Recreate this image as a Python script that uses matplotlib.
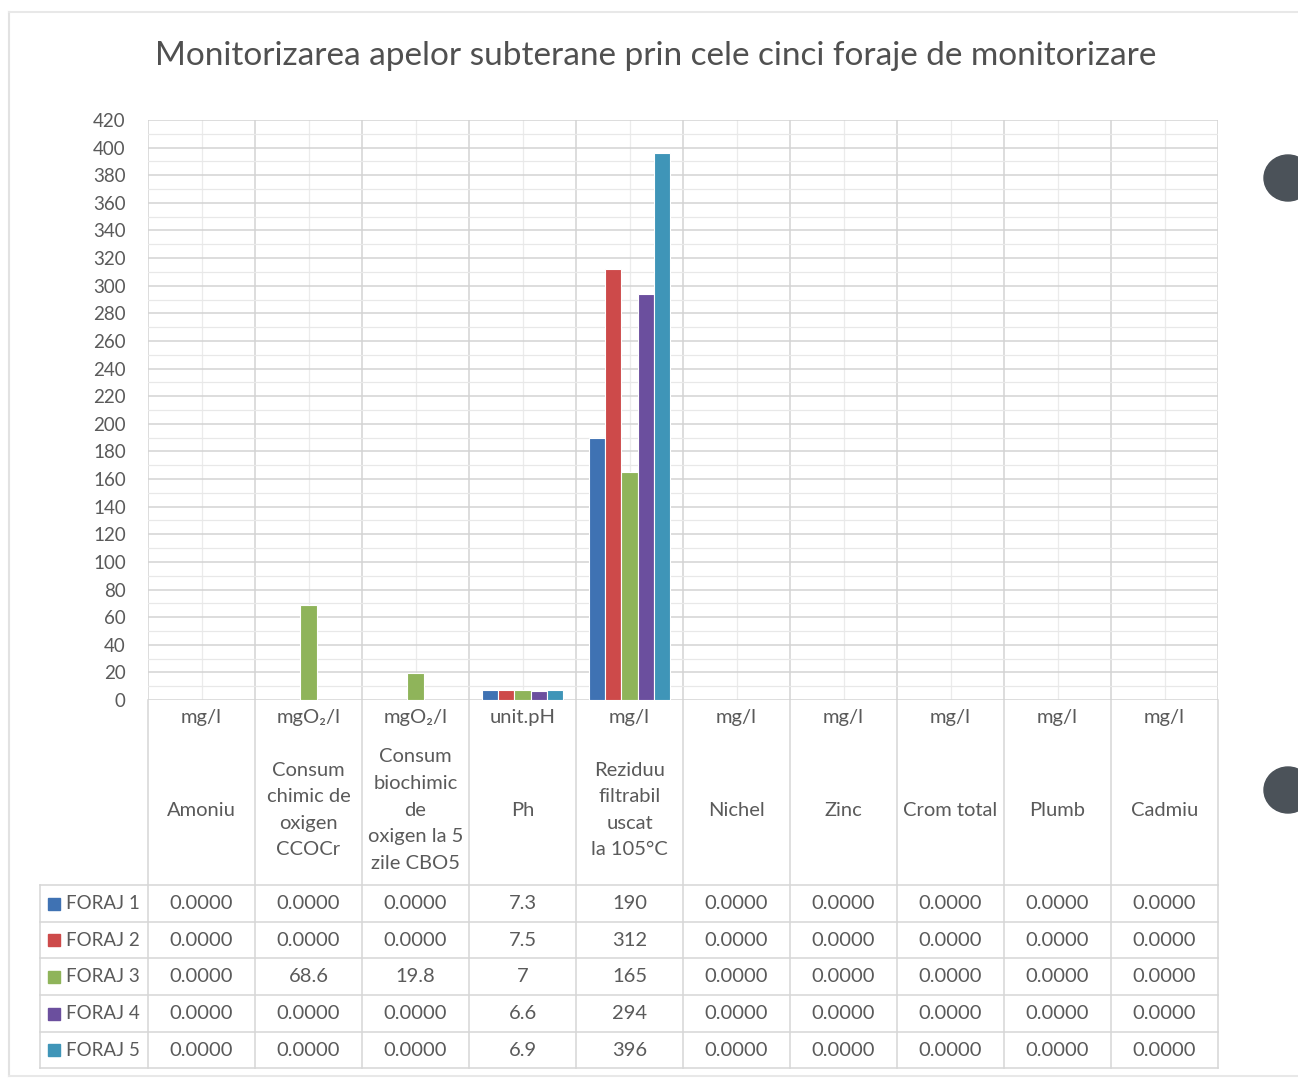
import numpy as np
import matplotlib
matplotlib.use("Agg")
from matplotlib import pyplot as plt
from matplotlib import transforms
from matplotlib.patches import Ellipse, Rectangle

plt.rcParams['font.family'] = ['Lato', 'DejaVu Sans']

title = "Monitorizarea apelor subterane prin cele cinci foraje de monitorizare"
units = ["mg/l", "mgO₂/l", "mgO₂/l", "unit.pH", "mg/l", "mg/l", "mg/l", "mg/l", "mg/l", "mg/l"]
params = ["Amoniu", "Consum\nchimic de\noxigen\nCCOCr", "Consum\nbiochimic\nde\noxigen la 5\nzile CBO5",
          "Ph", "Reziduu\nfiltrabil\nuscat\nla 105°C", "Nichel", "Zinc", "Crom total", "Plumb", "Cadmiu"]
series = ["FORAJ 1", "FORAJ 2", "FORAJ 3", "FORAJ 4", "FORAJ 5"]
foraj1 = [0, 0, 0, 7.3, 190, 0, 0, 0, 0, 0]
foraj2 = [0, 0, 0, 7.5, 312, 0, 0, 0, 0, 0]
foraj3 = [0, 68.6, 19.8, 7, 165, 0, 0, 0, 0, 0]
foraj4 = [0, 0, 0, 6.6, 294, 0, 0, 0, 0, 0]
foraj5 = [0, 0, 0, 6.9, 396, 0, 0, 0, 0, 0]
colors = ["#3f72b3", "#cd4a4a", "#8fb45a", "#6b4f9e", "#3f95b8"]

W, H = 1298, 1083
fig = plt.figure(figsize=(W / 100, H / 100), dpi=100)
fig.patch.set_facecolor("white")

def fy(y):
    return 1 - y / H

def fx(x):
    return x / W

txt = "#5a5a5a"
grid = "#d3d3d3"
fs = 14.5

ax = fig.add_axes([fx(148), fy(700), fx(1218) - fx(148), fy(120) - fy(700)])
n = len(units)
x = np.arange(n)
data = [foraj1, foraj2, foraj3, foraj4, foraj5]
bw = 0.15
for k, vals in enumerate(data):
    ax.bar(x + (k - 2) * bw, vals, bw, color=colors[k], edgecolor="white", linewidth=0.8, zorder=3)

ax.set_xlim(-0.5, n - 0.5)
ax.set_ylim(0, 420)
ax.set_yticks(np.arange(0, 421, 20))
ax.set_yticks(np.arange(10, 420, 20), minor=True)
ax.tick_params(axis="y", which="both", length=0, labelsize=13.5, labelcolor=txt, pad=16)
ax.set_xticks([])
ax.grid(axis="y", which="major", color=grid, linewidth=1.1, zorder=0)
ax.grid(axis="y", which="minor", color="#e8e8e8", linewidth=0.9, zorder=0)
for b in np.arange(-0.5, n, 1):
    ax.axvline(b, color=grid, linewidth=1.1, zorder=0)
for c in x:
    ax.axvline(c, color="#ebebeb", linewidth=0.9, zorder=0)
for s in ax.spines.values():
    s.set_visible(False)

fig.text(fx(656), fy(56), title, ha="center", va="center", fontsize=24, color="#505050")

# data table below the plot
tr = transforms.blended_transform_factory(ax.transData, fig.transFigure)
left_x = -0.5 - (148 - 40) / 107.0
lc = "#d6d6d6"
for b in np.arange(-0.5, n, 1):
    ax.plot([b, b], [fy(700), fy(1068)], color=lc, lw=1.1, transform=tr, clip_on=False)
ax.plot([left_x, left_x], [fy(885), fy(1068)], color=lc, lw=1.1, transform=tr, clip_on=False)
row_edges = [885, 922, 958, 995, 1032, 1068]
for ry in row_edges:
    ax.plot([left_x, n - 0.5], [fy(ry), fy(ry)], color=lc, lw=1.1, transform=tr, clip_on=False)

for i in range(n):
    ax.text(i, fy(718), units[i], ha="center", va="center", fontsize=fs, color=txt, transform=tr)
    ax.text(i, fy(810), params[i], ha="center", va="center", fontsize=fs, color=txt,
            linespacing=1.68, transform=tr)

def fmt(v):
    return "0.0000" if v == 0 else "%g" % v

for k, vals in enumerate(data):
    cy = (row_edges[k] + row_edges[k + 1]) / 2
    fig.patches.append(Rectangle((fx(48), fy(cy + 6)), fx(12), 12 / H, color=colors[k],
                                 transform=fig.transFigure, figure=fig))
    fig.text(fx(66), fy(cy), series[k], ha="left", va="center", fontsize=13.5, color=txt)
    for i in range(n):
        ax.text(i, fy(cy), fmt(vals[i]), ha="center", va="center", fontsize=fs, color=txt, transform=tr)

# page edge and punch holes from the scan
fig.lines.append(plt.Line2D([fx(9), fx(9)], [fy(12), fy(1076)], color="#e2e2e2", lw=1.5,
                            transform=fig.transFigure, figure=fig))
fig.lines.append(plt.Line2D([fx(9), fx(1298)], [fy(12), fy(12)], color="#e8e8e8", lw=1.5,
                            transform=fig.transFigure, figure=fig))
fig.lines.append(plt.Line2D([fx(9), fx(1298)], [fy(1076), fy(1076)], color="#e8e8e8", lw=1.5,
                            transform=fig.transFigure, figure=fig))
for cy in [178, 790]:
    fig.patches.append(Ellipse((fx(1288), fy(cy)), 48 / W, 46 / H, color="#4b5259",
                               transform=fig.transFigure, figure=fig))

fig.savefig("out.png", dpi=100)
